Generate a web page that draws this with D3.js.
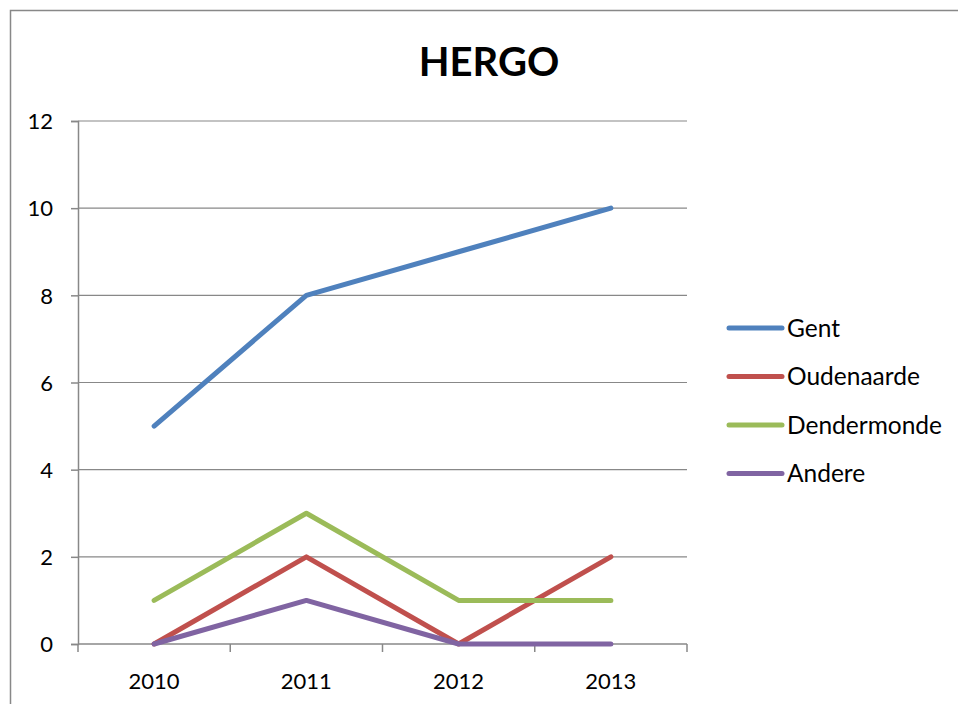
<!DOCTYPE html>
<html>
<head>
<meta charset="utf-8">
<script src="https://cdn.jsdelivr.net/npm/d3@7"></script>
<style>
  body { margin: 0; background: #fff; }
  text { font-family: Lato, "Open Sans", sans-serif; }
</style>
</head>
<body>
<div id="container"></div>
<script>
let w = 958;
let h = 704;

let years = ["2010", "2011", "2012", "2013"];
let seriesNames = ["Gent", "Oudenaarde", "Dendermonde", "Andere"];
let gent = [5, 8, 9, 10];
let oudenaarde = [0, 2, 0, 2];
let dendermonde = [1, 3, 1, 1];
let andere = [0, 1, 0, 0];
let yTicks = [0, 2, 4, 6, 8, 10, 12];
let colors = ["#4F81BD", "#C0504D", "#9BBB59", "#8064A2"];

let allSeries = [gent, oudenaarde, dendermonde, andere];

let viz = d3.select("#container")
  .append("svg")
  .attr("width", w)
  .attr("height", h)
  ;

// outer chart frame
viz.append("path")
  .attr("d", "M10.5," + h + "V10.5H" + w)
  .attr("fill", "none")
  .attr("stroke", "#888")
  .attr("stroke-width", 1.5);

viz.append("text")
  .attr("x", 489)
  .attr("y", 76)
  .attr("text-anchor", "middle")
  .style("font-size", "40px")
  .style("font-weight", "bold")
  .text("HERGO");

let xScale = d3.scaleBand().domain(years).range([78, 687]);
let yScale = d3.scaleLinear().domain([0, 12]).range([644, 121]);

// gridlines
viz.append("g")
  .selectAll("line")
  .data(yTicks.filter(d => d > 0))
  .enter()
  .append("line")
  .attr("x1", 78)
  .attr("x2", 687)
  .attr("y1", d => yScale(d))
  .attr("y2", d => yScale(d))
  .attr("stroke", "#888")
  .attr("stroke-width", 1.2);

let yAxis = d3.axisLeft(yScale).tickValues(yTicks).tickSize(7).tickPadding(18);
let yAxisGroup = viz.append("g").attr("class", "yaxis")
  .attr("transform", "translate(78,0)")
  .call(yAxis);

// x axis with ticks at category boundaries
let xAxisGroup = viz.append("g").attr("class", "xaxis")
  .attr("transform", "translate(0,644)");
xAxisGroup.append("line")
  .attr("x1", 78).attr("x2", 687)
  .attr("stroke", "#888").attr("stroke-width", 1.5);
let bounds = years.map(d => xScale(d)).concat([xScale.range()[1]]);
xAxisGroup.selectAll(".btick")
  .data(bounds)
  .enter()
  .append("line")
  .attr("x1", d => d).attr("x2", d => d)
  .attr("y1", 0).attr("y2", 8)
  .attr("stroke", "#888").attr("stroke-width", 1.5);
xAxisGroup.selectAll(".xlabel")
  .data(years)
  .enter()
  .append("text")
  .attr("x", d => xScale(d) + xScale.bandwidth() / 2)
  .attr("y", 45)
  .attr("text-anchor", "middle")
  .style("font-size", "22px")
  .attr("fill", "#000")
  .text(d => d);

yAxisGroup.select(".domain").attr("stroke", "#888").attr("stroke-width", 1.5);
yAxisGroup.selectAll(".tick line").attr("stroke", "#888").attr("stroke-width", 1.5);
yAxisGroup.selectAll(".tick text").style("font-size", "22px").attr("fill", "#000").attr("dy", "0.35em");

let line = d3.line()
  .x((d, i) => xScale(years[i]) + xScale.bandwidth() / 2)
  .y(d => yScale(d));

viz.append("g")
  .selectAll("path")
  .data(allSeries)
  .enter()
  .append("path")
  .attr("d", d => line(d))
  .attr("fill", "none")
  .attr("stroke", (d, i) => colors[i])
  .attr("stroke-width", 5)
  .attr("stroke-linecap", "round")
  .attr("stroke-linejoin", "round");

// legend
let legend = viz.append("g")
  .selectAll("g")
  .data(seriesNames)
  .enter()
  .append("g")
  .attr("transform", (d, i) => "translate(729," + (328 + i * 48.5) + ")");

legend.append("line")
  .attr("x1", 0).attr("x2", 53)
  .attr("stroke", (d, i) => colors[i])
  .attr("stroke-width", 5)
  .attr("stroke-linecap", "round");

legend.append("text")
  .attr("x", 58)
  .attr("dy", "0.35em")
  .style("font-size", "24.5px")
  .text(d => d);
</script>
</body>
</html>
